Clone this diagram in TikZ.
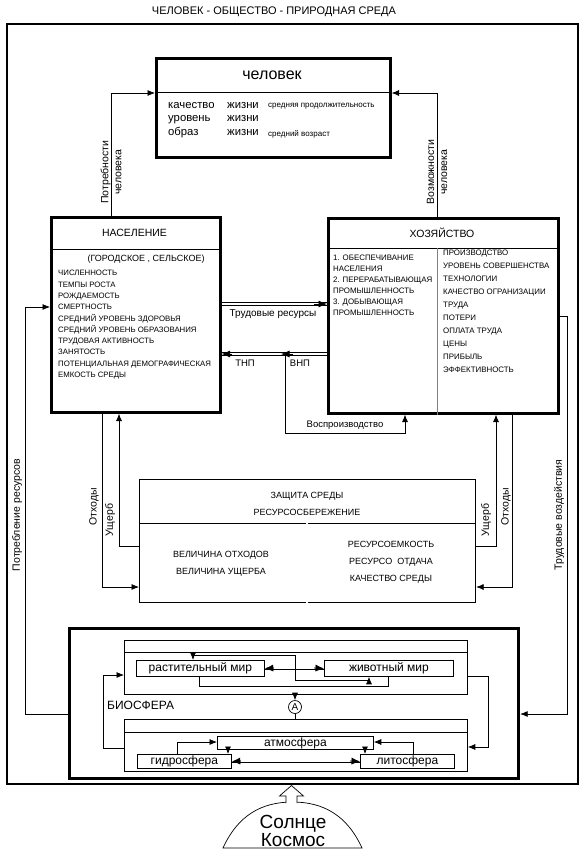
\documentclass[tikz,border=0pt]{standalone}
\usepackage{fontspec}
\setmainfont{Liberation Sans}
\usetikzlibrary{arrows.meta}

\begin{document}
\begin{tikzpicture}[x=1pt,y=-1pt,
    >={Latex[length=7.5pt,width=6pt]},
    blok/.style={draw,line width=2.6pt,anchor=north west,inner sep=0pt},
    tonk/.style={draw,line width=0.8pt,anchor=north west,inner sep=0pt},
    linija/.style={line width=0.7pt},
    dvoj/.style={double,double distance=2pt,line width=0.6pt},
    nakonech/.style={line width=0.7pt,-{Latex[length=8.5pt,width=7pt]}},
    melk/.style={font=\fontsize{7.8}{11.3}\selectfont,align=left,anchor=north west,inner sep=0pt},
    podpis/.style={font=\fontsize{9.5}{12}\selectfont,inner sep=0pt},
    vert/.style={font=\fontsize{10.5}{13}\selectfont,inner sep=0pt,rotate=90,align=center},
    sredtekst/.style={font=\fontsize{9}{17}\selectfont,align=center},
    biotekst/.style={font=\fontsize{12}{12}\selectfont}]
        \useasboundingbox (0,0) rectangle (584,856);
        % Заголовок и рамка
        \node[font=\fontsize{11}{12}\selectfont] (zagolovok) at (274,12) {ЧЕЛОВЕК - ОБЩЕСТВО - ПРИРОДНАЯ СРЕДА};
        \draw[line width=1.2pt] (7,24) rectangle (578,784);
        % Человек
        \node[blok,minimum width=234pt,minimum height=99pt] (chel) at (155,57) {};
        \draw[linija] ([yshift=-35pt]chel.north west) -- ([yshift=-35pt]chel.north east);
        \node[font=\fontsize{16}{16}\selectfont] (chel-t) at (272,75) {человек};
        \node[font=\fontsize{11.3}{13.5}\selectfont,align=left,anchor=north west,inner sep=0pt] at (168,102) {качество\\уровень\\образ};
        \node[font=\fontsize{11.3}{13.5}\selectfont,align=left,anchor=north west,inner sep=0pt] at (227,102) {жизни\\жизни\\жизни};
        \node[font=\fontsize{8}{8}\selectfont,anchor=north west,inner sep=0pt] at (268,103) {средняя продолжительность};
        \node[font=\fontsize{8}{8}\selectfont,anchor=north west,inner sep=0pt] at (268,130) {средний возраст};
        % Население
        \node[blok,minimum width=169pt,minimum height=195pt] (nas) at (50,216) {};
        \draw[linija] ([yshift=-33pt]nas.north west) -- ([yshift=-33pt]nas.north east);
        \node[font=\fontsize{10.5}{12}\selectfont] (nas-t) at (134.5,233) {НАСЕЛЕНИЕ};
        \node[font=\fontsize{9}{10}\selectfont] (nas-p) at (146,259) {(ГОРОДСКОЕ , СЕЛЬСКОЕ)};
        \node[melk] (nas-s) at (58,270.2) {ЧИСЛЕННОСТЬ\\ТЕМПЫ РОСТА\\РОЖДАЕМОСТЬ\\СМЕРТНОСТЬ\\СРЕДНИЙ УРОВЕНЬ ЗДОРОВЬЯ\\СРЕДНИЙ УРОВЕНЬ ОБРАЗОВАНИЯ\\ТРУДОВАЯ АКТИВНОСТЬ\\ЗАНЯТОСТЬ\\ПОТЕНЦИАЛЬНАЯ ДЕМОГРАФИЧЕСКАЯ\\ЕМКОСТЬ СРЕДЫ};
        % Хозяйство
        \node[blok,minimum width=230pt,minimum height=195pt] (hoz) at (327,217) {};
        \draw[linija] ([yshift=-31pt]hoz.north west) -- ([yshift=-31pt]hoz.north east);
        \draw[gray,line width=0.9pt] ([xshift=110pt,yshift=-31pt]hoz.north west) -- ([xshift=110pt]hoz.south west);
        \node[font=\fontsize{10.5}{12}\selectfont] (hoz-t) at (442,233) {ХОЗЯЙСТВО};
        \node[melk,font=\fontsize{7.9}{11}\selectfont] (hoz-l) at (333,255.2) {1. ОБЕСПЕЧИВАНИЕ\\НАСЕЛЕНИЯ\\2. ПЕРЕРАБАТЫВАЮЩАЯ\\ПРОМЫШЛЕННОСТЬ\\3. ДОБЫВАЮЩАЯ\\ПРОМЫШЛЕННОСТЬ};
        \node[melk,font=\fontsize{7.9}{12.9}\selectfont] (hoz-r) at (443,250.2) {ПРОИЗВОДСТВО\\УРОВЕНЬ СОВЕРШЕНСТВА\\ТЕХНОЛОГИИ\\КАЧЕСТВО ОГРАНИЗАЦИИ\\ТРУДА\\ПОТЕРИ\\ОПЛАТА ТРУДА\\ЦЕНЫ\\ПРИБЫЛЬ\\ЭФФЕКТИВНОСТЬ};
        % Потребности и возможности человека
        \coordinate (potr) at (111,93);
        \draw[linija,->] (nas.north -| potr) -- (potr) -- (chel.west |- potr);
        \node[vert] at (111,172) {Потребности\\человека};
        \coordinate (vozm) at (437,93);
        \draw[linija,->] (hoz.north -| vozm) -- (vozm) -- (chel.east |- vozm);
        \node[vert] at (437,172) {Возможности\\человека};
        % Трудовые ресурсы, ВНП, ТНП
        \coordinate (trud) at (0,304);
        \coordinate (trud-k) at (314,304);
        \draw[dvoj] (nas.east |- trud) -- (hoz.west |- trud);
        \draw[nakonech] (trud-k) -- (hoz.west |- trud);
        \node[font=\fontsize{10}{12}\selectfont,inner sep=0pt] at (273,314) {Трудовые ресурсы};
        \coordinate (vnp) at (281,354);
        \coordinate (vnp-k) at (293,354);
        \coordinate (tnp-k) at (232,354);
        \draw[dvoj] (hoz.west |- vnp) -- (vnp) -- (nas.east |- vnp);
        \draw[nakonech] (vnp-k) -- (vnp);
        \draw[nakonech] (tnp-k) -- (nas.east |- vnp);
        \node[podpis] at (245,363) {ТНП};
        \node[podpis] at (300,363) {ВНП};
        % Воспроизводство
        \coordinate (vosp1) at (285,354);
        \coordinate (vosp) at (405,433);
        \draw[linija,->] (vosp1) |- (vosp) -- (hoz.south -| vosp);
        \node[podpis] at (345,425) {Воспроизводство};
        % Среда
        \node[tonk,line width=1.1pt,minimum width=336pt,minimum height=123pt] (sreda) at (139,479) {};
        \draw[linija] ([yshift=-44pt]sreda.north west) -- ([yshift=-44pt]sreda.north east);
        \draw[double,double distance=1.5pt,line width=0.6pt] ([xshift=168pt,yshift=-44pt]sreda.north west) -- ([xshift=168pt]sreda.south west);
        \node[sredtekst] (sreda-t) at (307,503.5) {ЗАЩИТА СРЕДЫ\\РЕСУРСОСБЕРЕЖЕНИЕ};
        \node[sredtekst] (sreda-l) at (221,563.5) {ВЕЛИЧИНА ОТХОДОВ\\ВЕЛИЧИНА УЩЕРБА};
        \node[sredtekst] (sreda-r) at (391,562) {РЕСУРСОЕМКОСТЬ\\РЕСУРСО~~ОТДАЧА\\КАЧЕСТВО СРЕДЫ};
        % Отходы и ущерб
        \coordinate (otl) at (102,587);
        \draw[linija,->] (nas.south -| otl) -- (otl) -- (sreda.west |- otl);
        \coordinate (ushl) at (119,546);
        \draw[linija,->] (sreda.west |- ushl) -- (ushl) -- (nas.south -| ushl);
        \coordinate (ushr) at (496,546);
        \draw[linija,->] (sreda.east |- ushr) -- (ushr) -- (hoz.south -| ushr);
        \coordinate (otr) at (512,587);
        \draw[linija,->] (hoz.south -| otr) -- (otr) -- (sreda.east |- otr);
        \node[vert] at (94,507) {Отходы};
        \node[vert] at (110,520) {Ущерб};
        \node[vert] at (486,520) {Ущерб};
        \node[vert] at (506,507) {Отходы};
        % Биосфера
        \node[blok,line width=3.2pt,minimum width=449pt,minimum height=149.5pt] (bio) at (68,627) {};
        \node[tonk,minimum width=343pt,minimum height=54pt] (biota) at (124,640) {};
        \draw[linija] ([yshift=-12pt]biota.north west) -- ([yshift=-12pt]biota.north east);
        \node[tonk,minimum width=343pt,minimum height=52pt] (abio) at (124,719) {};
        \draw[linija] ([yshift=-13pt]abio.north west) -- ([yshift=-13pt]abio.north east);
        \node[tonk,biotekst,minimum width=128pt,minimum height=16pt] (rast) at (136,660) {растительный мир};
        \node[tonk,biotekst,minimum width=129pt,minimum height=16pt] (zhiv) at (324,660) {животный мир};
        \node[tonk,biotekst,minimum width=156pt,minimum height=13pt] (atm) at (217,736) {атмосфера};
        \node[tonk,biotekst,minimum width=94pt,minimum height=14pt] (gidro) at (137,754) {гидросфера};
        \node[tonk,biotekst,minimum width=94pt,minimum height=14pt] (lito) at (360,754) {литосфера};
        \node[biotekst,anchor=west,inner sep=0pt] (bio-t) at (107,705) {БИОСФЕРА};
        \node[draw,circle,linija,minimum size=13pt,inner sep=0pt,font=\fontsize{10}{10}\selectfont] (krugA) at (295,707) {А};
        \draw[linija,->] (biota.south -| krugA) -- (krugA);
        \draw[linija] (krugA) -- (abio.north -| krugA);
        % Связи между оболочками
        \coordinate (rz-l) at (274,668);
        \coordinate (rz-r) at (314,668);
        \draw[dvoj] (rast.east) -- (zhiv.west);
        \draw[nakonech] (rz-l) -- (rast.east);
        \draw[nakonech] (rz-r) -- (zhiv.west);
        \coordinate (r1) at (193,655);
        \coordinate (r2) at (295,680);
        \coordinate (r3) at (369,680);
        \draw[linija,<->] (rast.north -| r1) -- (r1) -| (r2) -- (r3) -- (zhiv.south -| r3);
        \coordinate (r4) at (199,686);
        \coordinate (r5) at (388,686);
        \draw[linija] (rast.south -| r4) -- (r4) -- (r5) -- (zhiv.south -| r5);
        \coordinate (b1) at (103,675);
        \coordinate (b2) at (103,748);
        \draw[linija,->] (abio.west |- b2) -- (b2) -- (b1) -- (biota.west |- b1);
        \coordinate (b3) at (488,676);
        \coordinate (b4) at (488,747);
        \draw[linija,->] (biota.east |- b3) -- (b3) -- (b4) -- (abio.east |- b4);
        \coordinate (g1) at (177,742);
        \draw[linija,->] (gidro.north -| g1) -- (g1) -- (atm.west |- g1);
        \coordinate (l1) at (413,742);
        \draw[linija,->] (lito.north -| l1) -- (l1) -- (atm.east |- l1);
        \coordinate (g2) at (228,0);
        \draw[linija,->] (atm.south -| g2) -- (gidro.north -| g2);
        \coordinate (l2) at (365,0);
        \draw[linija,->] (atm.south -| l2) -- (lito.north -| l2);
        \coordinate (gl-l) at (241,761);
        \coordinate (gl-r) at (350,761);
        \draw[dvoj] (gidro.east) -- (lito.west);
        \draw[nakonech] (gl-l) -- (gidro.east);
        \draw[nakonech] (gl-r) -- (lito.west);
        % Потребление ресурсов и трудовые воздействия
        \coordinate (pr1) at (25,714);
        \coordinate (pr2) at (25,307);
        \draw[linija,->] (bio.west |- pr1) -- (pr1) -- (pr2) -- (nas.west |- pr2);
        \node[vert] at (17,515) {Потребление ресурсов};
        \coordinate (tv1) at (567,316);
        \coordinate (tv2) at (567,714);
        \draw[linija,->] (hoz.east |- tv1) -- (tv1) -- (tv2) -- (bio.east |- tv2);
        \node[vert] at (559,515) {Трудовые воздействия};
        % Солнце, Космос
        \draw[linija] (223,848) .. controls (238,815) and (262,802) .. (292.5,802) .. controls (323,802) and (347,815) .. (362,848) -- cycle;
        \node[font=\fontsize{19}{18}\selectfont,align=center,inner sep=0pt] (solnce) at (293,831) {Солнце\\Космос};
        \draw[linija,fill=white] (286,803) -- (286,796) -- (279.5,796) -- (291.5,785.5) -- (303.5,796) -- (297,796) -- (297,803);
    \end{tikzpicture}
\end{document}
